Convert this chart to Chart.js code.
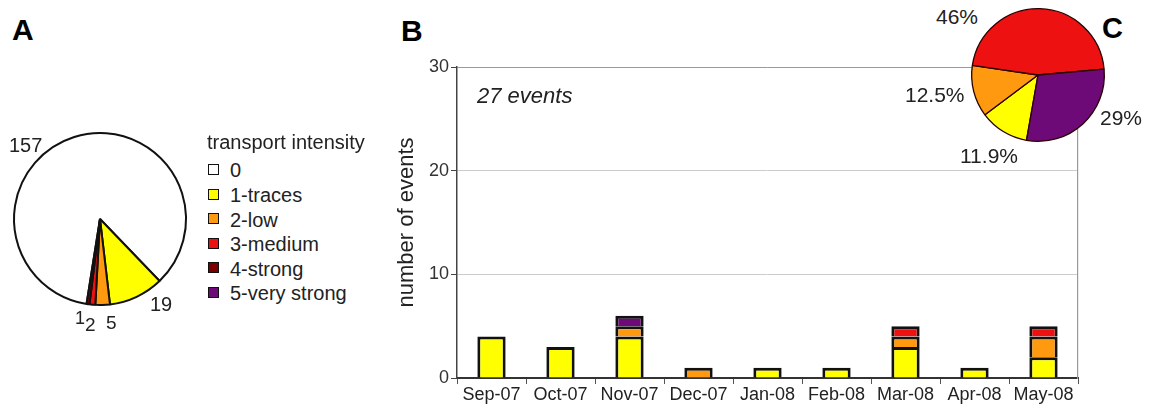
<!DOCTYPE html>
<html>
<head>
<meta charset="utf-8">
<title>Transport intensity</title>
<script src="https://cdn.jsdelivr.net/npm/chart.js@4.4.0/dist/chart.umd.min.js"></script>
<style>
    html, body { margin: 0; padding: 0; background: #fff; }
    #page { position: relative; width: 1150px; height: 410px; overflow: hidden;
            font-family: "Liberation Sans", Arial, Helvetica, sans-serif; color: #222; }
    #page canvas { position: absolute; }
    .txt { position: absolute; line-height: 1; white-space: nowrap; }
    .panel { font-weight: bold; color: #000; }
    .legend-box { position: absolute; width: 9px; height: 9px; border: 1.5px solid #111; }
</style>
</head>
<body>
<div id="page">
    <canvas id="pieA" width="200" height="200" style="left:0;top:119px"></canvas>
    <canvas id="bars" width="720" height="360" style="left:380px;top:50px"></canvas>
    <canvas id="pieC" width="150" height="150" style="left:963px;top:0;z-index:2"></canvas>
</div>
<script>
// categories / values
const months = ['Sep-07', 'Oct-07', 'Nov-07', 'Dec-07', 'Jan-08', 'Feb-08', 'Mar-08', 'Apr-08', 'May-08'];
const tracesEvents     = [4, 3, 4, 0, 1, 1, 3, 1, 2];
const lowEvents        = [0, 0, 1, 1, 0, 0, 1, 0, 2];
const mediumEvents     = [0, 0, 0, 0, 0, 0, 1, 0, 1];
const strongEvents     = [0, 0, 0, 0, 0, 0, 0, 0, 0];
const veryStrongEvents = [0, 0, 1, 0, 0, 0, 0, 0, 0];
const yTicks = [0, 10, 20, 30];

const intensityLabels = ['0', '1-traces', '2-low', '3-medium', '4-strong', '5-very strong'];
const intensityColors = ['#ffffff', '#ffff00', '#ff9a10', '#ee1111', '#7a0000', '#6e0a78'];

// panel A: counts per intensity class, panel C: share of events (%)
const pieACounts = [157, 19, 5, 2, 1, 0];
const pieCShares = [0, 11.9, 12.5, 46, 0, 29];

document.addEventListener('DOMContentLoaded', function () {
    'use strict';

    const page = document.getElementById('page');
    Chart.defaults.font.family = '"Liberation Sans", Arial, Helvetica, sans-serif';
    Chart.defaults.animation = false;

    // put a text label so that its cap top sits at capTop
    function placeText(text, left, capTop, size, cls, extra) {
        const el = document.createElement('div');
        el.className = 'txt ' + (cls || '');
        el.textContent = text;
        el.style.left = left + 'px';
        el.style.top = (capTop - 0.13 * size) + 'px';
        el.style.fontSize = size + 'px';
        if (extra) Object.assign(el.style, extra);
        page.appendChild(el);
        return el;
    }

    // panel letters
    placeText('A', 12, 19, 30, 'panel');
    placeText('B', 401, 20, 30, 'panel');
    placeText('C', 1102, 18, 29, 'panel');

    // ---- A: pie of all days ----
    new Chart(document.getElementById('pieA'), {
        type: 'pie',
        data: {
            labels: intensityLabels,
            datasets: [{
                data: pieACounts,
                backgroundColor: intensityColors,
                borderColor: '#111',
                borderWidth: 2
            }]
        },
        options: {
            responsive: false,
            rotation: 189,
            layout: { padding: 13 },
            plugins: { legend: { display: false }, tooltip: { enabled: false } }
        }
    });

    placeText(String(pieACounts[0]), 9, 138, 20);
    placeText(String(pieACounts[1]), 150, 297, 20);
    placeText(String(pieACounts[2]), 106, 315, 19);
    placeText(String(pieACounts[3]), 85, 317, 19);
    placeText(String(pieACounts[4]), 75, 311, 18);

    // legend of panel A
    placeText('transport intensity', 207, 135, 20);
    intensityLabels.forEach(function (lab, i) {
        const y = 170 + i * 24.6;
        const box = document.createElement('div');
        box.className = 'legend-box';
        box.style.left = '208px';
        box.style.top = (y - 6) + 'px';
        box.style.background = intensityColors[i];
        page.appendChild(box);
        placeText(lab, 230, y - 7, 20);
    });

    // ---- B: stacked monthly bars ----
    // bottom edge skipped (default), so a stacked divider is a single border
    const series = [tracesEvents, lowEvents, mediumEvents, strongEvents, veryStrongEvents];
    const datasets = series.map(function (vals, k) {
        return {
            label: intensityLabels[k + 1],
            data: vals.map(v => (v === 0 ? null : v)),
            backgroundColor: intensityColors[k + 1],
            borderColor: '#111',
            borderWidth: 3,
            categoryPercentage: 1,
            barPercentage: 0.41
        };
    });

    new Chart(document.getElementById('bars'), {
        type: 'bar',
        data: { labels: months, datasets: datasets },
        options: {
            responsive: false,
            layout: { padding: { top: 17, right: 22, left: 0, bottom: 0 } },
            plugins: { legend: { display: false }, tooltip: { enabled: false } },
            scales: {
                x: {
                    stacked: true,
                    grid: { drawOnChartArea: false, offset: true, tickLength: 6, color: '#555' },
                    border: { color: '#333', width: 2 },
                    ticks: { font: { size: 18 }, color: '#222', maxRotation: 0, autoSkip: false, padding: 0 },
                    afterFit: function (s) { s.height = 32; }
                },
                y: {
                    stacked: true,
                    min: yTicks[0],
                    max: yTicks[yTicks.length - 1],
                    ticks: { stepSize: yTicks[1] - yTicks[0], font: { size: 18 }, color: '#333', padding: 2 },
                    grid: {
                        tickLength: 6,
                        tickColor: '#444',
                        color: function (ctx) {
                            if (ctx.tick.value === yTicks[0]) return 'rgba(0,0,0,0)';
                            return ctx.tick.value === yTicks[yTicks.length - 1] ? '#999' : '#ccc';
                        }
                    },
                    border: { color: '#444', width: 1.5 },
                    title: {
                        display: true, text: 'number of events',
                        font: { size: 22 }, color: '#222', padding: { top: 14, bottom: 0 }
                    },
                    afterFit: function (s) { s.width = 77; }
                },
                // right frame line
                yRight: {
                    position: 'right',
                    min: 0, max: 30,
                    ticks: { display: false },
                    grid: { drawOnChartArea: false, drawTicks: false },
                    border: { color: '#999', width: 1.2 },
                    afterFit: function (s) { s.width = 0; }
                }
            }
        }
    });

    placeText('27 events', 477, 88, 22, '', { fontStyle: 'italic' });

    // ---- C: share of the 27 events ----
    new Chart(document.getElementById('pieC'), {
        type: 'pie',
        data: {
            labels: intensityLabels,
            datasets: [{
                data: pieCShares,
                backgroundColor: intensityColors,
                borderColor: '#2a0000',
                borderWidth: 1.3
            }]
        },
        options: {
            responsive: false,
            rotation: 190,
            layout: { padding: 8 },
            plugins: { legend: { display: false }, tooltip: { enabled: false } }
        }
    });

    placeText(pieCShares[3] + '%', 936, 9, 21);
    placeText(pieCShares[2] + '%', 905, 87, 21);
    placeText(pieCShares[1] + '%', 960, 148, 21);
    placeText(pieCShares[5] + '%', 1100, 110, 21);
});
</script>
</body>
</html>
